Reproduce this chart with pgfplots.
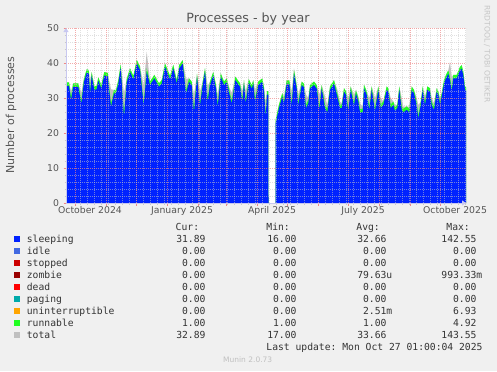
\documentclass[border=0pt]{standalone}
\usepackage{pgfplots}
\pgfplotsset{compat=1.18}
\usepackage{pgfplotstable}
\usepackage{fontspec}
\setmainfont{DejaVu Sans}
\newfontfamily\monofont{DejaVu Sans Mono}
\usetikzlibrary{arrows.meta}
\definecolor{bgc}{HTML}{F0F0F0}
\definecolor{axc}{HTML}{C8C8F0}
\definecolor{mgrid}{HTML}{EE8888}
\definecolor{ngrid}{HTML}{C8C8C8}
\definecolor{txt}{HTML}{555555}
\definecolor{leg}{HTML}{333333}
\definecolor{csleep}{HTML}{0022FF}
\definecolor{cidle}{HTML}{4169E1}
\definecolor{cstop}{HTML}{CC0000}
\definecolor{czomb}{HTML}{990000}
\definecolor{cdead}{HTML}{FF0000}
\definecolor{cpag}{HTML}{00AAAA}
\definecolor{cunin}{HTML}{FFA500}
\definecolor{crun}{HTML}{22FF22}
\definecolor{ctot}{HTML}{C0C0C0}

% day = days since 1 Oct 2024; top = sleeping + runnable
\pgfplotstableread{
day top sleeping total
-8.5 34.5 33.5 34.5
-6 34.5 33.5 34.5
-4 30.4 29.4 32.0
-1.7 34.2 33.2 34.2
3.3 34.2 33.2 34.2
6.3 29.4 28.4 31.5
9 35.6 34.6 35.6
11.7 38.2 37.2 38.2
13.7 38.0 37.0 38.0
15 32.3 31.3 35.0
16.7 37.4 36.4 37.4
19.3 33.3 32.3 33.5
21.7 33.5 32.5 33.5
23.3 35.9 34.9 35.9
26.3 33.7 32.7 33.7
29.3 37.4 36.4 37.4
32.7 37.2 36.2 37.2
36 28.5 27.5 32.5
39 32.3 31.3 32.3
41 32.3 31.3 32.3
43.3 35.1 34.1 35.1
45.7 39.6 38.6 39.6
49 25.6 24.6 31.5
51.7 35.4 34.4 35.4
55 38.5 37.5 38.5
58.3 36.3 35.3 36.3
61.7 40.9 39.9 40.9
65 39.0 38.0 39.0
68.7 28.9 27.9 33.5
71.7 38.5 37.5 43.2
75 34.7 33.7 34.7
79.3 36.6 35.6 36.6
84 34.2 33.2 34.2
86.7 35.1 34.1 35.1
90 39.9 38.9 39.9
95 36.3 35.3 36.3
98.3 39.5 38.5 39.5
101.7 35.1 34.1 35.1
104.3 39.5 38.5 39.5
107.7 40.8 39.8 40.8
111 32.3 31.3 35.5
114 35.6 34.6 35.6
116.7 34.7 33.7 34.7
119 27.0 26.0 31.0
122 36.9 35.9 36.9
125 28.9 27.9 32.0
127.7 34.7 33.7 34.7
130 38.5 37.5 38.5
132.7 30.0 29.0 33.5
135 34.7 33.7 34.7
138.3 37.5 36.5 37.5
141 33.7 32.7 33.7
142.7 28.5 27.5 31.0
145.7 37.1 36.1 37.1
149 34.7 33.7 34.7
151.7 35.6 34.6 35.6
154.3 32.3 31.3 33.0
156.7 29.4 28.4 31.5
160.3 36.1 35.1 36.1
165 34.2 33.2 34.2
167.3 30.0 29.0 32.0
169 35.1 34.1 35.1
170.7 29.4 28.4 32.0
173.7 35.4 34.4 35.4
176.7 33.7 32.7 33.7
178.3 35.1 34.1 35.1
180 30.0 29.0 32.5
183.3 34.7 33.7 34.7
187.3 35.6 34.6 35.6
189 33.0 32.0 33.0
190.7 25.6 24.6 29.0
192 32.0 31.0 32.0
193.4 32.0 31.0 32.0
193.5 0 0 0
200.5 0 0 0
200.6 23.7 22.7 23.7
204 28.1 27.1 28.1
207.3 31.4 30.4 31.4
209 29.5 28.5 30.5
211.7 35.1 34.1 35.1
214.3 35.0 34.0 35.0
216.7 28.9 27.9 32.0
219 38.0 37.0 38.5
221.7 33.7 32.7 33.7
223.3 28.9 27.9 31.0
226.7 34.7 33.7 34.7
229 34.0 33.0 34.0
231 28.1 27.1 31.0
233.3 29.5 28.5 30.0
235 33.7 32.7 33.7
239 34.7 33.7 34.7
241.7 33.7 32.7 33.7
244.3 27.8 26.8 31.0
246.7 33.7 32.7 33.7
250 28.1 27.1 30.5
252.3 26.9 25.9 28.0
255 33.3 32.3 33.3
259 35.1 34.1 35.1
262.3 31.4 30.4 32.5
265 28.1 27.1 29.0
266.7 28.1 27.1 28.5
269 32.8 31.8 32.8
271 31.9 30.9 31.9
273.3 27.3 26.3 30.0
275.7 33.3 32.3 33.3
279 28.9 27.9 31.0
281 32.3 31.3 32.3
283.3 30.0 29.0 30.5
285 26.9 25.9 28.5
287.7 26.9 25.9 27.5
289 33.8 32.8 33.8
291.7 31.9 30.9 31.9
294.3 27.6 26.6 30.0
296.7 33.3 32.3 33.3
300 27.3 26.3 30.0
303.3 33.3 32.3 33.3
305.7 28.1 27.1 30.0
308.3 29.0 28.0 29.0
311.7 33.3 32.3 33.3
313.3 32.8 31.8 32.8
315.7 28.1 27.1 30.0
318.3 29.0 28.0 29.0
320 27.3 26.3 28.0
322.3 28.1 27.1 28.1
324.3 33.3 32.3 33.3
326.7 27.6 26.6 30.0
328.3 26.9 25.9 27.5
331.7 27.6 26.6 27.6
334.3 26.9 25.9 27.5
336.7 33.3 32.3 33.3
339 32.3 31.3 32.3
341.7 28.9 27.9 30.0
343.3 25.1 24.1 28.0
345.7 28.9 27.9 28.9
347.7 33.3 32.3 33.3
350 28.9 27.9 30.5
352.3 33.3 32.3 33.3
355 32.8 31.8 32.8
356.7 28.9 27.9 30.0
359 27.6 26.6 28.5
361.7 32.8 31.8 32.8
363.3 31.9 30.9 31.9
365 29.0 28.0 30.0
366.7 31.4 30.4 31.4
369 35.1 34.1 35.1
371 36.6 35.6 36.6
373.3 37.9 36.9 37.9
375 36.0 35.0 40.3
376.7 33.0 32.0 36.0
378.3 36.6 35.6 36.6
381.7 36.6 35.6 36.6
385 38.9 37.9 38.9
386.7 39.4 38.4 39.4
388.3 37.5 36.5 37.5
390 33.3 32.3 33.3
391 33.0 32.0 33.0
}\proc

\begin{document}
\begin{tikzpicture}[x=1bp,y=1bp]
\useasboundingbox (0,0) rectangle (497,371);
\fill[bgc] (0,0) rectangle (497,371);
\begin{axis}[
  at={(66bp,168bp)}, anchor=south west,
  scale only axis, width=400bp, height=175bp,
  xmin=-9, xmax=391, ymin=0, ymax=50,
  axis background/.style={fill=white},
  axis x line=bottom, axis y line=left,
  x axis line style={draw=axc, line width=0.8bp, -{Triangle[length=4bp,width=5bp]}},
  y axis line style={draw=axc, line width=0.8bp, -{Triangle[length=4bp,width=5bp]}},
  xtick={0,31,61,92,123,151,182,212,243,273,304,335,365},
  xticklabels={},
  minor xtick={5,12,19,26,33,40,47,54,61,68,75,82,89,96,103,110,117,124,131,138,145,152,159,166,173,180,187,194,201,208,215,222,229,236,243,250,257,264,271,278,285,292,299,306,313,320,327,334,341,348,355,362,369,376,383,390},
  ytick={0,10,20,30,40,50},
  minor ytick={2,4,6,8,12,14,16,18,22,24,26,28,32,34,36,38,42,44,46,48},
  grid=both,
  major grid style={draw=mgrid, dash pattern=on 1bp off 1bp, line width=0.6bp, opacity=0.7},
  minor grid style={draw=ngrid, dash pattern=on 1bp off 1bp, line width=0.6bp, opacity=0.55},
  tick align=outside,
  major tick length=2.5bp, minor tick length=1.5bp,
  major tick style={draw=mgrid, line width=0.5bp},
  minor tick style={draw=ngrid, line width=0.5bp},
  extra x ticks={15,107,197,288,380},
  extra x tick labels={October 2024,January 2025,April 2025,July 2025,October 2025},
  extra x tick style={grid=none, major tick length=0pt},
  ticklabel style={font=\fontsize{9.3bp}{10bp}\selectfont, text=txt},
  /pgf/number format/assume math mode=true,
  yticklabel style={xshift=-1bp},
  axis on top,
]
\addplot[draw=none, fill=ctot] table[x=day, y=total] {\proc} \closedcycle;
\addplot[draw=none, fill=crun] table[x=day, y=top] {\proc} \closedcycle;
\addplot[draw=none, fill=csleep] table[x=day, y=sleeping] {\proc} \closedcycle;
\end{axis}

% title and axis label
\node[text=txt, font=\fontsize{12.7bp}{14bp}\selectfont] at (248,352) {Processes - by year};
\node[text=txt, rotate=90, font=\fontsize{11bp}{12bp}\selectfont] at (11,256) {Number of processes};
\node[text=ctot!90!white, rotate=-90, font=\fontsize{7.6bp}{8bp}\selectfont] at (487,317) {RRDTOOL / TOBI OETIKER};

% legend
\begin{scope}[every node/.style={text=leg, font=\monofont\fontsize{9.7bp}{11bp}\selectfont\frenchspacing, inner sep=0pt}]
\node[anchor=mid east] at (199.3,143.7) {Cur:};
\node[anchor=mid east] at (290,143.7) {Min:};
\node[anchor=mid east] at (380,143.7) {Avg:};
\node[anchor=mid east] at (470,143.7) {Max:};
\foreach \i/\c/\n/\cur/\mn in {
  0/csleep/sleeping/31.89/16.00,
  1/cidle/idle/0.00/0.00,
  2/cstop/stopped/0.00/0.00,
  3/czomb/zombie/0.00/0.00,
  4/cdead/dead/0.00/0.00,
  5/cpag/paging/0.00/0.00,
  6/cunin/uninterruptible/0.00/0.00,
  7/crun/runnable/1.00/1.00,
  8/ctot/total/32.89/17.00} {
  \pgfmathsetmacro{\yy}{131.7-12*\i}
  \fill[\c] (14,\yy-3) rectangle (20,\yy+3);
  \node[anchor=mid west] at (26.7,\yy) {\n};
  \node[anchor=mid east] at (205.7,\yy) {\cur};
  \node[anchor=mid east] at (296.7,\yy) {\mn};
}
\node[anchor=mid east] at (386.7,131.7) {32.66};
\node[anchor=mid east] at (386.7,119.7) {0.00};
\node[anchor=mid east] at (386.7,107.7) {0.00};
\node[anchor=mid east] at (392.5,95.7) {79.63u};
\node[anchor=mid east] at (386.7,83.7) {0.00};
\node[anchor=mid east] at (386.7,71.7) {0.00};
\node[anchor=mid east] at (392.5,59.7) {2.51m};
\node[anchor=mid east] at (386.7,47.7) {1.00};
\node[anchor=mid east] at (386.7,35.7) {33.66};
\node[anchor=mid east] at (476.7,131.7) {142.55};
\node[anchor=mid east] at (476.7,119.7) {0.00};
\node[anchor=mid east] at (476.7,107.7) {0.00};
\node[anchor=mid east] at (482.5,95.7) {993.33m};
\node[anchor=mid east] at (476.7,83.7) {0.00};
\node[anchor=mid east] at (476.7,71.7) {0.00};
\node[anchor=mid east] at (476.7,59.7) {6.93};
\node[anchor=mid east] at (476.7,47.7) {4.92};
\node[anchor=mid east] at (476.7,35.7) {143.55};
\node[anchor=mid east] at (482.7,23.3) {Last update: Mon Oct 27 01:00:04 2025};
\end{scope}
\node[text=ctot, font=\fontsize{7.5bp}{8bp}\selectfont, inner sep=0pt] at (247.7,11) {Munin 2.0.73};
\end{tikzpicture}
\end{document}
